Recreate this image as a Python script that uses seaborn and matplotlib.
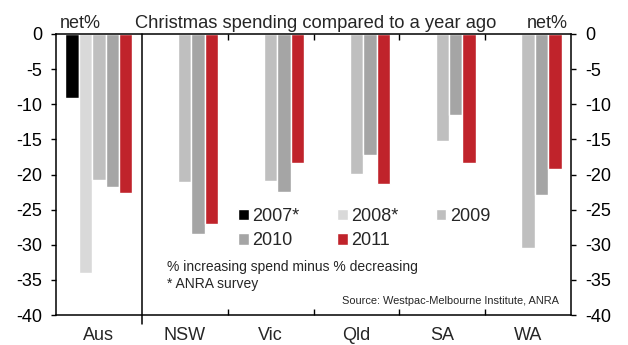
import numpy as np
import pandas as pd
import matplotlib
matplotlib.use("Agg")
import matplotlib.pyplot as plt
import seaborn as sns

regions = ["Aus", "NSW", "Vic", "Qld", "SA", "WA"]
years = ["2007*", "2008*", "2009", "2010", "2011"]
v2007 = [-9.1, np.nan, np.nan, np.nan, np.nan, np.nan]
v2008 = [-34.0, np.nan, np.nan, np.nan, np.nan, np.nan]
v2009 = [-20.8, -21.1, -20.9, -19.9, -15.2, -30.4]
v2010 = [-21.8, -28.5, -22.5, -17.2, -11.5, -22.9]
v2011 = [-22.7, -27.0, -18.4, -21.4, -18.3, -19.2]
colors = ["#000000", "#d9d9d9", "#bfbfbf", "#a5a5a5", "#c0232b"]
yticks = [0, -5, -10, -15, -20, -25, -30, -35, -40]

rows = []
for yr, vals in zip(years, [v2007, v2008, v2009, v2010, v2011]):
    for r, v in zip(regions, vals):
        if not np.isnan(v):
            rows.append({"region": r, "year": yr, "value": v})
df = pd.DataFrame(rows)

sns.set_style("white")
plt.rcParams["font.family"] = ["Liberation Sans", "DejaVu Sans"]

fig = plt.figure(figsize=(6.28, 3.45), dpi=100)
ax = fig.add_axes([56 / 628, 1 - 315 / 345, (571 - 56) / 628, (315 - 34) / 345])

sns.barplot(data=df, x="region", y="value", hue="year", order=regions,
            hue_order=years, palette=colors, saturation=1, width=0.78,
            errorbar=None, dodge=True, ax=ax, legend=True)

ax.set_ylim(-40, 0)
ax.set_xlim(-0.5, 5.5)
ax.set_yticks(yticks)
ax.set_yticklabels([str(t) for t in yticks])
ax.set_xlabel("")
ax.set_ylabel("")

for s in ["left", "right", "bottom", "top"]:
    ax.spines[s].set_visible(True)
    ax.spines[s].set_color("black")
    ax.spines[s].set_linewidth(1.1)

ax.tick_params(axis="y", which="major", left=True, right=True, labelleft=True,
               labelright=True, direction="out", length=3.5, width=1.0,
               pad=6.5, labelsize=13, colors="black")
ax.tick_params(axis="x", which="major", length=0, pad=9, labelsize=13)
ax.set_xticks([1.5, 2.5, 3.5, 4.5], minor=True)
ax.tick_params(axis="x", which="minor", top=True, bottom=True, direction="in",
               length=4.5, width=1.0, color="black")

ax.axvline(0.5, ymin=-0.032, ymax=1, color="black", lw=1.1, clip_on=False)

# legend
handles, labels = ax.get_legend_handles_labels()
order = [0, 3, 1, 4, 2]
ax.legend([handles[i] for i in order], [labels[i] for i in order], ncol=3,
          loc="upper left", bbox_to_anchor=(238 / 628, 1 - 208 / 345),
          bbox_transform=fig.transFigure, frameon=False, fontsize=13,
          handlelength=0.6, handleheight=0.6, handletextpad=0.2,
          columnspacing=2.05, labelspacing=0.4, borderpad=0, borderaxespad=0)

fig.text(316 / 628, 1 - 28 / 345, "Christmas spending compared to a year ago",
         ha="center", va="baseline", fontsize=13.2)
fig.text(80 / 628, 1 - 28 / 345, "net%", ha="center", va="baseline", fontsize=13)
fig.text(547 / 628, 1 - 28 / 345, "net%", ha="center", va="baseline", fontsize=13)
fig.text(167 / 628, 1 - 271 / 345, "% increasing spend minus % decreasing",
         ha="left", va="baseline", fontsize=10)
fig.text(167 / 628, 1 - 288 / 345, "* ANRA survey",
         ha="left", va="baseline", fontsize=10)
fig.text(559 / 628, 1 - 304 / 345, "Source: Westpac-Melbourne Institute, ANRA",
         ha="right", va="baseline", fontsize=7.9)

fig.savefig("out.png", dpi=100)
